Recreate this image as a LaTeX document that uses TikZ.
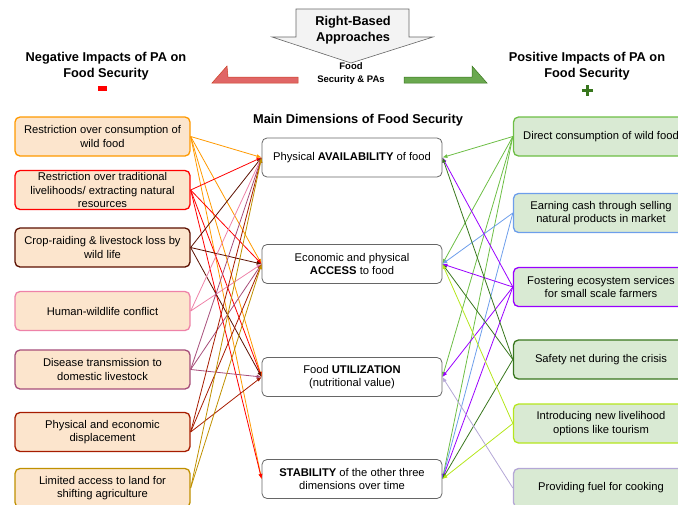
\documentclass[tikz,border=0pt]{standalone}
\usepackage{fontspec}
\setmainfont{Liberation Sans}
\usetikzlibrary{arrows.meta}
\definecolor{cA}{HTML}{FF9900}
\definecolor{cB}{HTML}{FF0000}
\definecolor{cC}{HTML}{5B0F00}
\definecolor{cD}{HTML}{EE82A8}
\definecolor{cE}{HTML}{A64D79}
\definecolor{cF}{HTML}{A61C00}
\definecolor{cG}{HTML}{BF9000}
\definecolor{rA}{HTML}{6DBE45}
\definecolor{rB}{HTML}{6D9EEB}
\definecolor{rC}{HTML}{9900FF}
\definecolor{rD}{HTML}{38761D}
\definecolor{rE}{HTML}{B5E61D}
\definecolor{rF}{HTML}{B4A7D6}
\definecolor{lfill}{HTML}{FCE5CD}
\definecolor{rfill}{HTML}{D9EAD3}
\definecolor{graybd}{HTML}{666666}
\begin{document}
\begin{tikzpicture}[x=1pt,y=-1pt,
  lbox/.style={draw=#1, line width=1.3pt, rounded corners=5pt, fill=lfill,
    minimum width=175pt, minimum height=39pt, align=center, inner sep=1pt,
    font=\fontsize{11.2}{13.3}\selectfont},
  rbox/.style={lbox=#1, fill=rfill},
  cbox/.style={draw=graybd, line width=0.8pt, rounded corners=5pt, fill=white,
    minimum width=180pt, minimum height=39pt, align=center, inner sep=1pt,
    font=\fontsize{11.2}{13.3}\selectfont},
  hdr/.style={align=center, font=\fontsize{12.8}{16}\selectfont\bfseries, inner sep=0pt},
  con/.style={line width=0.8pt, -{Latex[length=5pt,width=4pt]}}]
\useasboundingbox (0,0) rectangle (678,504);
\clip (0,0) rectangle (678,504);

% top arrows
\draw[graybd, line width=0.6pt, fill={rgb,255:red,243;green,243;blue,243}]
  (296,9) -- (409,9) -- (409,37) -- (433,37) -- (351,63) -- (272,37) -- (296,37) -- cycle;
\node[hdr] (rba) at (353,30.5) {Right-Based\\Approaches};
\draw[fill={rgb,255:red,224;green,102;blue,102}, draw={rgb,255:red,204;green,65;blue,37}, line width=0.5pt]
  (212,83) -- (227,66) -- (228,77) -- (298,77) -- (298,83) -- cycle;
\draw[fill={rgb,255:red,106;green,168;blue,79}, draw={rgb,255:red,56;green,118;blue,29}, line width=0.5pt]
  (404,77) -- (472,77) -- (472,66) -- (487,83) -- (404,83) -- cycle;
\node[align=center, font=\fontsize{9.5}{13}\selectfont\bfseries, inner sep=0pt] (fsp) at (351,73.5) {Food\\Security \& PAs};

\node[hdr] (neg) at (106,66) {Negative Impacts of PA on\\Food Security};
\node[hdr] (pos) at (587,66) {Positive Impacts of PA on\\Food Security};
\fill[red] (97.5,85.5) rectangle (107,91);
\fill[rD] (585.5,84.5) rectangle (589,95.5);
\fill[rD] (582,88.5) rectangle (592.5,92);
\node[hdr] (mdt) at (358,120) {Main Dimensions of Food Security};

% left boxes
\node[lbox=cA] (L1) at (102.5,136.5) {Restriction over consumption of\\wild food};
\node[lbox=cB] (L2) at (102.5,190) {Restriction over traditional\\livelihoods/ extracting natural\\resources};
\node[lbox=cC] (L3) at (102.5,247.5) {Crop-raiding \& livestock loss by\\wild life};
\node[lbox=cD] (L4) at (102.5,311) {Human-wildlife conflict};
\node[lbox=cE] (L5) at (102.5,369.5) {Disease transmission to\\domestic livestock};
\node[lbox=cF] (L6) at (102.5,432) {Physical and economic\\displacement};
\node[lbox=cG] (L7) at (102.5,488) {Limited access to land for\\shifting agriculture};

% center boxes
\node[cbox] (A) at (352,157.5) {Physical \textbf{AVAILABILITY} of food};
\node[cbox] (B) at (352,264) {Economic and physical\\\textbf{ACCESS} to food};
\node[cbox] (C) at (352,377) {Food \textbf{UTILIZATION}\\(nutritional value)};
\node[cbox] (D) at (352,479) {\textbf{STABILITY} of the other three\\dimensions over time};

% right boxes
\node[rbox=rA] (R1) at (601,136.5) {Direct consumption of wild food};
\node[rbox=rB] (R2) at (601,213) {Earning cash through selling\\natural products in market};
\node[rbox=rC] (R3) at (601,287) {Fostering ecosystem services\\for small scale farmers};
\node[rbox=rD] (R4) at (601,359.5) {Safety net during the crisis};
\node[rbox=rE] (R5) at (601,423.5) {Introducing new livelihood\\options like tourism};
\node[rbox=rF] (R6) at (601,488) {Providing fuel for cooking};

% left connectors
\foreach \t in {A,B,C,D} \draw[con,cA] (L1.east) -- (\t.west);
\foreach \t in {A,B,C,D} \draw[con,cB] (L2.east) -- (\t.west);
\foreach \t in {A,B,C} \draw[con,cC] (L3.east) -- (\t.west);
\foreach \t in {A,B} \draw[con,cD] (L4.east) -- (\t.west);
\foreach \t in {A,B,C} \draw[con,cE] (L5.east) -- (\t.west);
\foreach \t in {A,B,C} \draw[con,cF] (L6.east) -- (\t.west);
\foreach \t in {A,B} \draw[con,cG] (L7.east) -- (\t.west);

% right connectors
\foreach \t in {A,B,C,D} \draw[con,rA] (R1.west) -- (\t.east);
\foreach \t in {B,D} \draw[con,rB] (R2.west) -- (\t.east);
\foreach \t in {A,B,C,D} \draw[con,rC] (R3.west) -- (\t.east);
\foreach \t in {A,B,D} \draw[con,rD] (R4.west) -- (\t.east);
\foreach \t in {B,D} \draw[con,rE] (R5.west) -- (\t.east);
\foreach \t in {C} \draw[con,rF] (R6.west) -- (\t.east);
\end{tikzpicture}
\end{document}
